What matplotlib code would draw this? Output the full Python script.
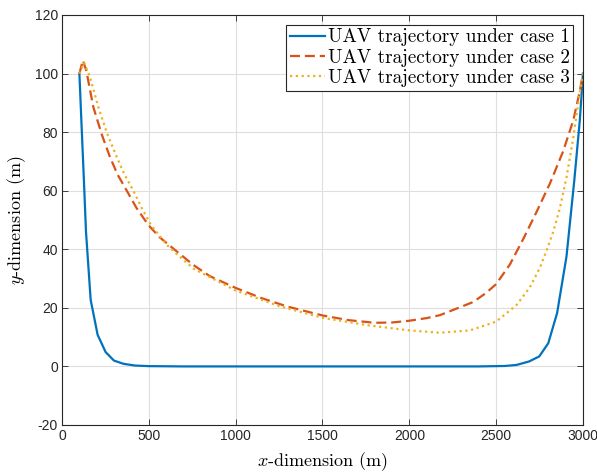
import matplotlib

matplotlib.use("Agg")

import matplotlib.pyplot as plt

# case 1 (blue, solid)
case1_x = [100, 112, 125, 138, 165, 205, 251, 299, 353, 420, 500, 700, 1000, 1500,
           2000, 2400, 2550, 2617, 2690, 2748, 2800, 2851, 2905, 2950, 2982, 3000]
case1_y = [100, 83, 65, 46, 22.7, 10.8, 4.9, 2.0, 0.9, 0.3, 0.1, 0.0, 0.0, 0.0,
           0.0, 0.0, 0.15, 0.5, 1.7, 3.4, 7.9, 18.2, 37.5, 63.5, 84.2, 100]

# case 2 (red, dashed)
case2_x = [100, 120, 140, 180, 230, 276, 320, 372, 430, 497, 560, 660, 757, 852,
           1000, 1150, 1300, 1500, 1650, 1800, 1900, 2000, 2100, 2176, 2270, 2368,
           2440, 2500, 2579, 2656, 2733, 2810, 2886, 2944, 2980, 3000]
case2_y = [100, 104.5, 101, 88.6, 79, 71.5, 65.5, 60.1, 54, 48.3, 44.2, 39.3, 34.6, 30.8,
           26.8, 23.3, 20.4, 17.4, 15.8, 14.9, 15.0, 15.6, 16.5, 17.5, 19.7, 22.0,
           25.0, 28.1, 34.8, 43.5, 52.8, 62.5, 73.5, 84, 93.5, 100]

# case 3 (yellow, dotted)
case3_x = [100, 127, 160, 209, 260, 315, 360, 410, 460, 510, 603, 660, 757, 1000, 1250,
           1500, 1768, 2000, 2176, 2349, 2500, 2618, 2694, 2752, 2790, 2829, 2867,
           2905, 2944, 2973, 3000]
case3_y = [100, 103.7, 99, 88.6, 79.5, 71.5, 65.5, 60.1, 54, 48.5, 41.5, 38.4, 33.4, 25.9,
           20.6, 16.6, 14.0, 12.3, 11.5, 12.3, 15.3, 21.0, 27.0, 33.7, 39.5, 46.0,
           54.0, 64.5, 78.0, 90.0, 100]

labels = ["UAV trajectory under case 1", "UAV trajectory under case 2",
          "UAV trajectory under case 3"]

plt.rcParams["mathtext.fontset"] = "cm"
plt.rcParams["axes.unicode_minus"] = False
plt.rcParams["font.family"] = ["Liberation Sans", "DejaVu Sans"]

fig = plt.figure(figsize=(5.97, 4.73), dpi=100)
ax = fig.add_axes([0.1039, 0.1015, 0.8726, 0.8668])

ax.plot(case1_x, case1_y, color="#0072BD", lw=1.6, ls="-", label=labels[0])
ax.plot(case2_x, case2_y, color="#D95319", lw=1.6, ls=(0, (4.5, 2.2)), label=labels[1])
ax.plot(case3_x, case3_y, color="#EDB120", lw=1.6, ls=(0, (1, 1.6)), label=labels[2])

ax.set_xlim(0, 3000)
ax.set_ylim(-20, 120)
ax.set_xticks(range(0, 3001, 500))
ax.set_yticks(range(-20, 121, 20))
ax.tick_params(direction="in", top=True, right=True, labelsize=10, length=4,
               width=0.6, colors="#262626", pad=3)
for s in ax.spines.values():
    s.set_linewidth(0.8)
    s.set_color("#262626")
ax.grid(True, color="#dedede", linewidth=0.8)
ax.set_axisbelow(True)

ax.set_xlabel("$x$-dimension (m)", family="cmr10", fontsize=13, labelpad=5)
ax.set_ylabel("$y$-dimension (m)", family="cmr10", fontsize=13, labelpad=5)

leg = ax.legend(loc="upper right", prop={"family": "cmr10", "size": 13.8},
                fancybox=False, edgecolor="#262626", framealpha=1,
                borderaxespad=0.5, handlelength=1.8, handletextpad=0.15,
                labelspacing=0.12, borderpad=0.2)
leg.get_frame().set_linewidth(0.8)

fig.savefig("out.png", dpi=100)
